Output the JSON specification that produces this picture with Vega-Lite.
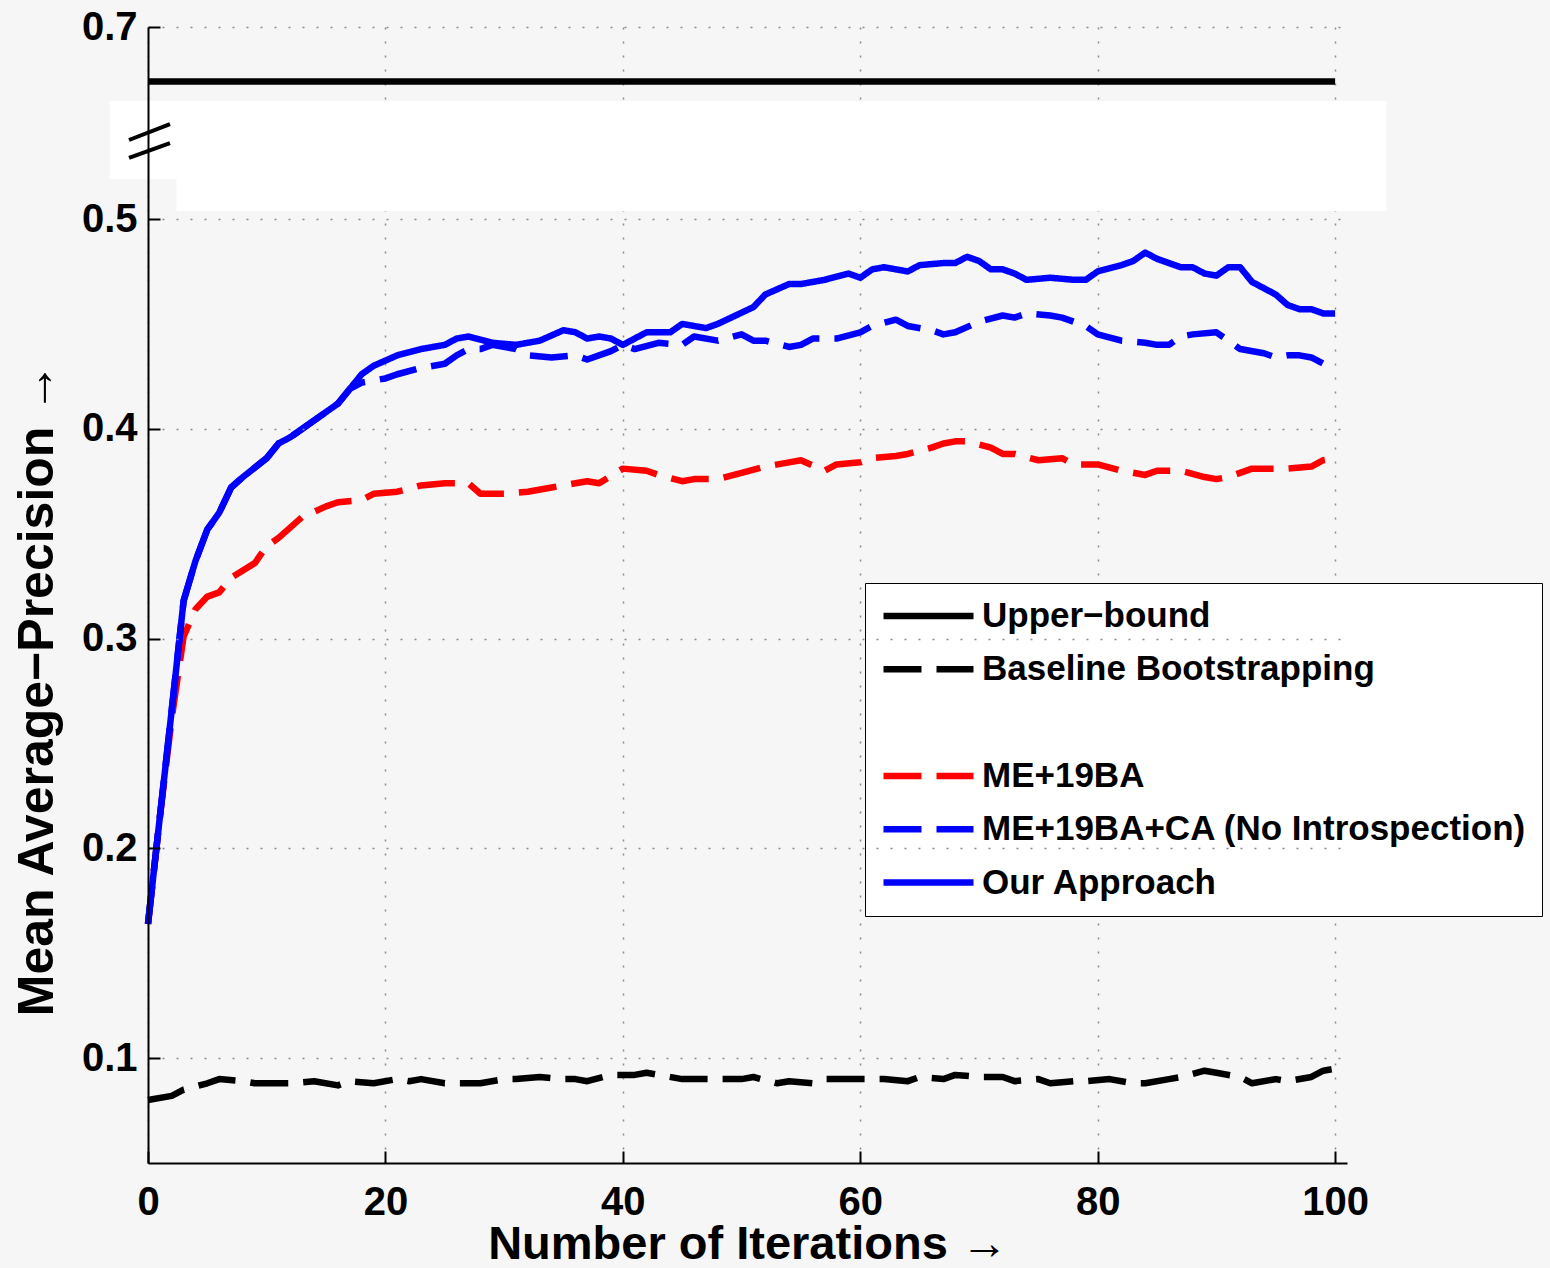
{
  "$schema": "https://vega.github.io/schema/vega-lite/v6.json",
  "width": 1199,
  "height": 1136,
  "autosize": {"type": "none"},
  "padding": {"left": 148, "top": 27, "right": 203, "bottom": 105},
  "background": "#f6f6f6",
  "config": {"view": {"stroke": null}, "font": "Liberation Sans"},
  "datasets": {
    "whiteout": [
      {"iter": -3.2, "iter2": 104.3, "map": 0.569, "map2": 0.6648},
      {"iter": 2.4, "iter2": 104.3, "map": 0.5138, "map2": 0.569}
    ],
    "breakmarks": [
      {"iter": -1.6, "iter2": 1.85, "map": 0.6362, "map2": 0.6538},
      {"iter": -1.6, "iter2": 1.85, "map": 0.6052, "map2": 0.631}
    ],
    "series": [
      {"iter": 0, "map": 0.674, "method": "Upper−bound"},
      {"iter": 100, "map": 0.674, "method": "Upper−bound"},

      {"iter": 0, "map": 0.080, "method": "Baseline Bootstrapping"},
      {"iter": 2, "map": 0.082, "method": "Baseline Bootstrapping"},
      {"iter": 3, "map": 0.085, "method": "Baseline Bootstrapping"},
      {"iter": 5, "map": 0.088, "method": "Baseline Bootstrapping"},
      {"iter": 6, "map": 0.090, "method": "Baseline Bootstrapping"},
      {"iter": 8, "map": 0.089, "method": "Baseline Bootstrapping"},
      {"iter": 9, "map": 0.088, "method": "Baseline Bootstrapping"},
      {"iter": 11, "map": 0.088, "method": "Baseline Bootstrapping"},
      {"iter": 12, "map": 0.088, "method": "Baseline Bootstrapping"},
      {"iter": 14, "map": 0.089, "method": "Baseline Bootstrapping"},
      {"iter": 16, "map": 0.087, "method": "Baseline Bootstrapping"},
      {"iter": 17, "map": 0.089, "method": "Baseline Bootstrapping"},
      {"iter": 19, "map": 0.088, "method": "Baseline Bootstrapping"},
      {"iter": 21, "map": 0.090, "method": "Baseline Bootstrapping"},
      {"iter": 22, "map": 0.089, "method": "Baseline Bootstrapping"},
      {"iter": 23, "map": 0.090, "method": "Baseline Bootstrapping"},
      {"iter": 25, "map": 0.088, "method": "Baseline Bootstrapping"},
      {"iter": 27, "map": 0.088, "method": "Baseline Bootstrapping"},
      {"iter": 28, "map": 0.088, "method": "Baseline Bootstrapping"},
      {"iter": 30, "map": 0.090, "method": "Baseline Bootstrapping"},
      {"iter": 31, "map": 0.090, "method": "Baseline Bootstrapping"},
      {"iter": 33, "map": 0.091, "method": "Baseline Bootstrapping"},
      {"iter": 35, "map": 0.090, "method": "Baseline Bootstrapping"},
      {"iter": 36, "map": 0.090, "method": "Baseline Bootstrapping"},
      {"iter": 37, "map": 0.089, "method": "Baseline Bootstrapping"},
      {"iter": 39, "map": 0.092, "method": "Baseline Bootstrapping"},
      {"iter": 41, "map": 0.092, "method": "Baseline Bootstrapping"},
      {"iter": 42, "map": 0.093, "method": "Baseline Bootstrapping"},
      {"iter": 43, "map": 0.092, "method": "Baseline Bootstrapping"},
      {"iter": 45, "map": 0.090, "method": "Baseline Bootstrapping"},
      {"iter": 47, "map": 0.090, "method": "Baseline Bootstrapping"},
      {"iter": 50, "map": 0.090, "method": "Baseline Bootstrapping"},
      {"iter": 51, "map": 0.091, "method": "Baseline Bootstrapping"},
      {"iter": 53, "map": 0.088, "method": "Baseline Bootstrapping"},
      {"iter": 54, "map": 0.089, "method": "Baseline Bootstrapping"},
      {"iter": 56, "map": 0.088, "method": "Baseline Bootstrapping"},
      {"iter": 57, "map": 0.090, "method": "Baseline Bootstrapping"},
      {"iter": 59, "map": 0.090, "method": "Baseline Bootstrapping"},
      {"iter": 61, "map": 0.090, "method": "Baseline Bootstrapping"},
      {"iter": 62, "map": 0.090, "method": "Baseline Bootstrapping"},
      {"iter": 64, "map": 0.089, "method": "Baseline Bootstrapping"},
      {"iter": 65, "map": 0.091, "method": "Baseline Bootstrapping"},
      {"iter": 67, "map": 0.090, "method": "Baseline Bootstrapping"},
      {"iter": 68, "map": 0.092, "method": "Baseline Bootstrapping"},
      {"iter": 70, "map": 0.091, "method": "Baseline Bootstrapping"},
      {"iter": 72, "map": 0.091, "method": "Baseline Bootstrapping"},
      {"iter": 73, "map": 0.089, "method": "Baseline Bootstrapping"},
      {"iter": 75, "map": 0.090, "method": "Baseline Bootstrapping"},
      {"iter": 76, "map": 0.088, "method": "Baseline Bootstrapping"},
      {"iter": 78, "map": 0.089, "method": "Baseline Bootstrapping"},
      {"iter": 79, "map": 0.089, "method": "Baseline Bootstrapping"},
      {"iter": 81, "map": 0.090, "method": "Baseline Bootstrapping"},
      {"iter": 83, "map": 0.088, "method": "Baseline Bootstrapping"},
      {"iter": 84, "map": 0.088, "method": "Baseline Bootstrapping"},
      {"iter": 86, "map": 0.090, "method": "Baseline Bootstrapping"},
      {"iter": 87, "map": 0.091, "method": "Baseline Bootstrapping"},
      {"iter": 89, "map": 0.094, "method": "Baseline Bootstrapping"},
      {"iter": 90, "map": 0.093, "method": "Baseline Bootstrapping"},
      {"iter": 92, "map": 0.091, "method": "Baseline Bootstrapping"},
      {"iter": 93, "map": 0.088, "method": "Baseline Bootstrapping"},
      {"iter": 95, "map": 0.090, "method": "Baseline Bootstrapping"},
      {"iter": 96, "map": 0.089, "method": "Baseline Bootstrapping"},
      {"iter": 98, "map": 0.091, "method": "Baseline Bootstrapping"},
      {"iter": 99, "map": 0.094, "method": "Baseline Bootstrapping"},
      {"iter": 100, "map": 0.095, "method": "Baseline Bootstrapping"},

      {"iter": 0, "map": 0.164, "method": "ME+19BA"},
      {"iter": 1, "map": 0.215, "method": "ME+19BA"},
      {"iter": 2, "map": 0.262, "method": "ME+19BA"},
      {"iter": 3, "map": 0.301, "method": "ME+19BA"},
      {"iter": 4, "map": 0.314, "method": "ME+19BA"},
      {"iter": 5, "map": 0.320, "method": "ME+19BA"},
      {"iter": 6, "map": 0.322, "method": "ME+19BA"},
      {"iter": 7, "map": 0.329, "method": "ME+19BA"},
      {"iter": 9, "map": 0.336, "method": "ME+19BA"},
      {"iter": 10, "map": 0.344, "method": "ME+19BA"},
      {"iter": 11, "map": 0.348, "method": "ME+19BA"},
      {"iter": 12, "map": 0.353, "method": "ME+19BA"},
      {"iter": 13, "map": 0.358, "method": "ME+19BA"},
      {"iter": 15, "map": 0.363, "method": "ME+19BA"},
      {"iter": 16, "map": 0.365, "method": "ME+19BA"},
      {"iter": 18, "map": 0.366, "method": "ME+19BA"},
      {"iter": 19, "map": 0.369, "method": "ME+19BA"},
      {"iter": 21, "map": 0.370, "method": "ME+19BA"},
      {"iter": 23, "map": 0.373, "method": "ME+19BA"},
      {"iter": 25, "map": 0.374, "method": "ME+19BA"},
      {"iter": 27, "map": 0.374, "method": "ME+19BA"},
      {"iter": 28, "map": 0.369, "method": "ME+19BA"},
      {"iter": 30, "map": 0.369, "method": "ME+19BA"},
      {"iter": 32, "map": 0.370, "method": "ME+19BA"},
      {"iter": 34, "map": 0.372, "method": "ME+19BA"},
      {"iter": 37, "map": 0.375, "method": "ME+19BA"},
      {"iter": 38, "map": 0.374, "method": "ME+19BA"},
      {"iter": 40, "map": 0.381, "method": "ME+19BA"},
      {"iter": 42, "map": 0.380, "method": "ME+19BA"},
      {"iter": 43, "map": 0.378, "method": "ME+19BA"},
      {"iter": 45, "map": 0.375, "method": "ME+19BA"},
      {"iter": 46, "map": 0.376, "method": "ME+19BA"},
      {"iter": 48, "map": 0.376, "method": "ME+19BA"},
      {"iter": 50, "map": 0.379, "method": "ME+19BA"},
      {"iter": 52, "map": 0.382, "method": "ME+19BA"},
      {"iter": 54, "map": 0.384, "method": "ME+19BA"},
      {"iter": 55, "map": 0.385, "method": "ME+19BA"},
      {"iter": 57, "map": 0.380, "method": "ME+19BA"},
      {"iter": 58, "map": 0.383, "method": "ME+19BA"},
      {"iter": 60, "map": 0.384, "method": "ME+19BA"},
      {"iter": 61, "map": 0.386, "method": "ME+19BA"},
      {"iter": 63, "map": 0.387, "method": "ME+19BA"},
      {"iter": 64, "map": 0.388, "method": "ME+19BA"},
      {"iter": 66, "map": 0.391, "method": "ME+19BA"},
      {"iter": 67, "map": 0.393, "method": "ME+19BA"},
      {"iter": 68, "map": 0.394, "method": "ME+19BA"},
      {"iter": 69, "map": 0.394, "method": "ME+19BA"},
      {"iter": 71, "map": 0.391, "method": "ME+19BA"},
      {"iter": 72, "map": 0.388, "method": "ME+19BA"},
      {"iter": 73, "map": 0.388, "method": "ME+19BA"},
      {"iter": 75, "map": 0.385, "method": "ME+19BA"},
      {"iter": 77, "map": 0.386, "method": "ME+19BA"},
      {"iter": 78, "map": 0.383, "method": "ME+19BA"},
      {"iter": 80, "map": 0.383, "method": "ME+19BA"},
      {"iter": 82, "map": 0.380, "method": "ME+19BA"},
      {"iter": 84, "map": 0.378, "method": "ME+19BA"},
      {"iter": 85, "map": 0.380, "method": "ME+19BA"},
      {"iter": 87, "map": 0.380, "method": "ME+19BA"},
      {"iter": 89, "map": 0.377, "method": "ME+19BA"},
      {"iter": 90, "map": 0.376, "method": "ME+19BA"},
      {"iter": 91, "map": 0.377, "method": "ME+19BA"},
      {"iter": 93, "map": 0.381, "method": "ME+19BA"},
      {"iter": 95, "map": 0.381, "method": "ME+19BA"},
      {"iter": 96, "map": 0.381, "method": "ME+19BA"},
      {"iter": 98, "map": 0.382, "method": "ME+19BA"},
      {"iter": 99, "map": 0.385, "method": "ME+19BA"},
      {"iter": 100, "map": 0.386, "method": "ME+19BA"},

      {"iter": 0, "map": 0.164, "method": "ME+19BA+CA (No Introspection)"},
      {"iter": 1, "map": 0.215, "method": "ME+19BA+CA (No Introspection)"},
      {"iter": 2, "map": 0.266, "method": "ME+19BA+CA (No Introspection)"},
      {"iter": 3, "map": 0.318, "method": "ME+19BA+CA (No Introspection)"},
      {"iter": 4, "map": 0.337, "method": "ME+19BA+CA (No Introspection)"},
      {"iter": 5, "map": 0.352, "method": "ME+19BA+CA (No Introspection)"},
      {"iter": 6, "map": 0.360, "method": "ME+19BA+CA (No Introspection)"},
      {"iter": 7, "map": 0.372, "method": "ME+19BA+CA (No Introspection)"},
      {"iter": 8, "map": 0.377, "method": "ME+19BA+CA (No Introspection)"},
      {"iter": 10, "map": 0.386, "method": "ME+19BA+CA (No Introspection)"},
      {"iter": 11, "map": 0.393, "method": "ME+19BA+CA (No Introspection)"},
      {"iter": 12, "map": 0.396, "method": "ME+19BA+CA (No Introspection)"},
      {"iter": 14, "map": 0.404, "method": "ME+19BA+CA (No Introspection)"},
      {"iter": 15, "map": 0.408, "method": "ME+19BA+CA (No Introspection)"},
      {"iter": 16, "map": 0.412, "method": "ME+19BA+CA (No Introspection)"},
      {"iter": 17, "map": 0.419, "method": "ME+19BA+CA (No Introspection)"},
      {"iter": 18, "map": 0.422, "method": "ME+19BA+CA (No Introspection)"},
      {"iter": 20, "map": 0.424, "method": "ME+19BA+CA (No Introspection)"},
      {"iter": 21, "map": 0.426, "method": "ME+19BA+CA (No Introspection)"},
      {"iter": 23, "map": 0.429, "method": "ME+19BA+CA (No Introspection)"},
      {"iter": 25, "map": 0.431, "method": "ME+19BA+CA (No Introspection)"},
      {"iter": 26, "map": 0.435, "method": "ME+19BA+CA (No Introspection)"},
      {"iter": 27, "map": 0.438, "method": "ME+19BA+CA (No Introspection)"},
      {"iter": 28, "map": 0.438, "method": "ME+19BA+CA (No Introspection)"},
      {"iter": 29, "map": 0.440, "method": "ME+19BA+CA (No Introspection)"},
      {"iter": 31, "map": 0.438, "method": "ME+19BA+CA (No Introspection)"},
      {"iter": 32, "map": 0.435, "method": "ME+19BA+CA (No Introspection)"},
      {"iter": 34, "map": 0.434, "method": "ME+19BA+CA (No Introspection)"},
      {"iter": 36, "map": 0.435, "method": "ME+19BA+CA (No Introspection)"},
      {"iter": 37, "map": 0.433, "method": "ME+19BA+CA (No Introspection)"},
      {"iter": 39, "map": 0.437, "method": "ME+19BA+CA (No Introspection)"},
      {"iter": 40, "map": 0.440, "method": "ME+19BA+CA (No Introspection)"},
      {"iter": 41, "map": 0.438, "method": "ME+19BA+CA (No Introspection)"},
      {"iter": 43, "map": 0.441, "method": "ME+19BA+CA (No Introspection)"},
      {"iter": 45, "map": 0.440, "method": "ME+19BA+CA (No Introspection)"},
      {"iter": 46, "map": 0.444, "method": "ME+19BA+CA (No Introspection)"},
      {"iter": 48, "map": 0.442, "method": "ME+19BA+CA (No Introspection)"},
      {"iter": 50, "map": 0.445, "method": "ME+19BA+CA (No Introspection)"},
      {"iter": 51, "map": 0.442, "method": "ME+19BA+CA (No Introspection)"},
      {"iter": 52, "map": 0.442, "method": "ME+19BA+CA (No Introspection)"},
      {"iter": 54, "map": 0.439, "method": "ME+19BA+CA (No Introspection)"},
      {"iter": 55, "map": 0.440, "method": "ME+19BA+CA (No Introspection)"},
      {"iter": 56, "map": 0.443, "method": "ME+19BA+CA (No Introspection)"},
      {"iter": 58, "map": 0.443, "method": "ME+19BA+CA (No Introspection)"},
      {"iter": 60, "map": 0.446, "method": "ME+19BA+CA (No Introspection)"},
      {"iter": 61, "map": 0.449, "method": "ME+19BA+CA (No Introspection)"},
      {"iter": 63, "map": 0.452, "method": "ME+19BA+CA (No Introspection)"},
      {"iter": 64, "map": 0.449, "method": "ME+19BA+CA (No Introspection)"},
      {"iter": 66, "map": 0.447, "method": "ME+19BA+CA (No Introspection)"},
      {"iter": 67, "map": 0.445, "method": "ME+19BA+CA (No Introspection)"},
      {"iter": 68, "map": 0.446, "method": "ME+19BA+CA (No Introspection)"},
      {"iter": 70, "map": 0.451, "method": "ME+19BA+CA (No Introspection)"},
      {"iter": 72, "map": 0.454, "method": "ME+19BA+CA (No Introspection)"},
      {"iter": 73, "map": 0.453, "method": "ME+19BA+CA (No Introspection)"},
      {"iter": 74, "map": 0.455, "method": "ME+19BA+CA (No Introspection)"},
      {"iter": 76, "map": 0.454, "method": "ME+19BA+CA (No Introspection)"},
      {"iter": 77, "map": 0.453, "method": "ME+19BA+CA (No Introspection)"},
      {"iter": 79, "map": 0.449, "method": "ME+19BA+CA (No Introspection)"},
      {"iter": 80, "map": 0.445, "method": "ME+19BA+CA (No Introspection)"},
      {"iter": 82, "map": 0.442, "method": "ME+19BA+CA (No Introspection)"},
      {"iter": 84, "map": 0.441, "method": "ME+19BA+CA (No Introspection)"},
      {"iter": 85, "map": 0.440, "method": "ME+19BA+CA (No Introspection)"},
      {"iter": 86, "map": 0.440, "method": "ME+19BA+CA (No Introspection)"},
      {"iter": 87, "map": 0.444, "method": "ME+19BA+CA (No Introspection)"},
      {"iter": 88, "map": 0.445, "method": "ME+19BA+CA (No Introspection)"},
      {"iter": 90, "map": 0.446, "method": "ME+19BA+CA (No Introspection)"},
      {"iter": 91, "map": 0.442, "method": "ME+19BA+CA (No Introspection)"},
      {"iter": 92, "map": 0.438, "method": "ME+19BA+CA (No Introspection)"},
      {"iter": 94, "map": 0.436, "method": "ME+19BA+CA (No Introspection)"},
      {"iter": 95, "map": 0.434, "method": "ME+19BA+CA (No Introspection)"},
      {"iter": 96, "map": 0.435, "method": "ME+19BA+CA (No Introspection)"},
      {"iter": 97, "map": 0.435, "method": "ME+19BA+CA (No Introspection)"},
      {"iter": 98, "map": 0.434, "method": "ME+19BA+CA (No Introspection)"},
      {"iter": 99, "map": 0.431, "method": "ME+19BA+CA (No Introspection)"},
      {"iter": 100, "map": 0.431, "method": "ME+19BA+CA (No Introspection)"},

      {"iter": 0, "map": 0.164, "method": "Our Approach"},
      {"iter": 1, "map": 0.215, "method": "Our Approach"},
      {"iter": 2, "map": 0.266, "method": "Our Approach"},
      {"iter": 3, "map": 0.318, "method": "Our Approach"},
      {"iter": 4, "map": 0.337, "method": "Our Approach"},
      {"iter": 5, "map": 0.352, "method": "Our Approach"},
      {"iter": 6, "map": 0.360, "method": "Our Approach"},
      {"iter": 7, "map": 0.372, "method": "Our Approach"},
      {"iter": 8, "map": 0.377, "method": "Our Approach"},
      {"iter": 10, "map": 0.386, "method": "Our Approach"},
      {"iter": 11, "map": 0.393, "method": "Our Approach"},
      {"iter": 12, "map": 0.396, "method": "Our Approach"},
      {"iter": 14, "map": 0.404, "method": "Our Approach"},
      {"iter": 15, "map": 0.408, "method": "Our Approach"},
      {"iter": 16, "map": 0.412, "method": "Our Approach"},
      {"iter": 18, "map": 0.426, "method": "Our Approach"},
      {"iter": 19, "map": 0.430, "method": "Our Approach"},
      {"iter": 21, "map": 0.435, "method": "Our Approach"},
      {"iter": 23, "map": 0.438, "method": "Our Approach"},
      {"iter": 25, "map": 0.440, "method": "Our Approach"},
      {"iter": 26, "map": 0.443, "method": "Our Approach"},
      {"iter": 27, "map": 0.444, "method": "Our Approach"},
      {"iter": 29, "map": 0.441, "method": "Our Approach"},
      {"iter": 31, "map": 0.440, "method": "Our Approach"},
      {"iter": 33, "map": 0.442, "method": "Our Approach"},
      {"iter": 35, "map": 0.447, "method": "Our Approach"},
      {"iter": 36, "map": 0.446, "method": "Our Approach"},
      {"iter": 37, "map": 0.443, "method": "Our Approach"},
      {"iter": 38, "map": 0.444, "method": "Our Approach"},
      {"iter": 39, "map": 0.443, "method": "Our Approach"},
      {"iter": 40, "map": 0.440, "method": "Our Approach"},
      {"iter": 42, "map": 0.446, "method": "Our Approach"},
      {"iter": 44, "map": 0.446, "method": "Our Approach"},
      {"iter": 45, "map": 0.450, "method": "Our Approach"},
      {"iter": 47, "map": 0.448, "method": "Our Approach"},
      {"iter": 48, "map": 0.450, "method": "Our Approach"},
      {"iter": 51, "map": 0.458, "method": "Our Approach"},
      {"iter": 52, "map": 0.464, "method": "Our Approach"},
      {"iter": 54, "map": 0.469, "method": "Our Approach"},
      {"iter": 55, "map": 0.469, "method": "Our Approach"},
      {"iter": 57, "map": 0.471, "method": "Our Approach"},
      {"iter": 59, "map": 0.474, "method": "Our Approach"},
      {"iter": 60, "map": 0.472, "method": "Our Approach"},
      {"iter": 61, "map": 0.476, "method": "Our Approach"},
      {"iter": 62, "map": 0.477, "method": "Our Approach"},
      {"iter": 64, "map": 0.475, "method": "Our Approach"},
      {"iter": 65, "map": 0.478, "method": "Our Approach"},
      {"iter": 67, "map": 0.479, "method": "Our Approach"},
      {"iter": 68, "map": 0.479, "method": "Our Approach"},
      {"iter": 69, "map": 0.482, "method": "Our Approach"},
      {"iter": 70, "map": 0.480, "method": "Our Approach"},
      {"iter": 71, "map": 0.476, "method": "Our Approach"},
      {"iter": 72, "map": 0.476, "method": "Our Approach"},
      {"iter": 73, "map": 0.474, "method": "Our Approach"},
      {"iter": 74, "map": 0.471, "method": "Our Approach"},
      {"iter": 76, "map": 0.472, "method": "Our Approach"},
      {"iter": 78, "map": 0.471, "method": "Our Approach"},
      {"iter": 79, "map": 0.471, "method": "Our Approach"},
      {"iter": 80, "map": 0.475, "method": "Our Approach"},
      {"iter": 82, "map": 0.478, "method": "Our Approach"},
      {"iter": 83, "map": 0.480, "method": "Our Approach"},
      {"iter": 84, "map": 0.484, "method": "Our Approach"},
      {"iter": 85, "map": 0.481, "method": "Our Approach"},
      {"iter": 87, "map": 0.477, "method": "Our Approach"},
      {"iter": 88, "map": 0.477, "method": "Our Approach"},
      {"iter": 89, "map": 0.474, "method": "Our Approach"},
      {"iter": 90, "map": 0.473, "method": "Our Approach"},
      {"iter": 91, "map": 0.477, "method": "Our Approach"},
      {"iter": 92, "map": 0.477, "method": "Our Approach"},
      {"iter": 93, "map": 0.470, "method": "Our Approach"},
      {"iter": 95, "map": 0.464, "method": "Our Approach"},
      {"iter": 96, "map": 0.459, "method": "Our Approach"},
      {"iter": 97, "map": 0.457, "method": "Our Approach"},
      {"iter": 98, "map": 0.457, "method": "Our Approach"},
      {"iter": 99, "map": 0.455, "method": "Our Approach"},
      {"iter": 100, "map": 0.455, "method": "Our Approach"}
    ]
  },
  "encoding": {
    "x": {
      "field": "iter",
      "type": "quantitative",
      "scale": {"domain": [0, 101], "nice": false, "zero": false},
      "axis": {
        "values": [0, 20, 40, 60, 80, 100],
        "title": "Number of Iterations →",
        "grid": true,
        "gridDash": [2, 12],
        "gridColor": "#8a8a8a",
        "gridWidth": 1.5,
        "domainColor": "black",
        "domainWidth": 2,
        "tickColor": "black",
        "tickWidth": 2,
        "tickSize": -12,
        "labelFont": "Liberation Sans",
        "labelFontSize": 40,
        "labelFontWeight": "bold",
        "labelColor": "black",
        "labelPadding": 31,
        "labelFlush": false,
        "labelOverlap": false,
        "titleFont": "Liberation Sans",
        "titleFontSize": 47,
        "titleFontWeight": "bold",
        "titleColor": "black",
        "titleY": 95,
        "titleBaseline": "alphabetic"
      }
    },
    "y": {
      "field": "map",
      "type": "quantitative",
      "scale": {"domain": [0.05, 0.5, 0.65, 0.7], "range": [1136, 192, 105, 0], "nice": false, "zero": false},
      "axis": {
        "values": [0.1, 0.2, 0.3, 0.4, 0.5, 0.7],
        "format": ".1f",
        "title": "Mean Average−Precision →",
        "grid": true,
        "gridDash": [2, 12],
        "gridColor": "#8a8a8a",
        "gridWidth": 1.5,
        "domainColor": "black",
        "domainWidth": 2,
        "tickColor": "black",
        "tickWidth": 2,
        "tickSize": -12,
        "labelFont": "Liberation Sans",
        "labelFontSize": 40,
        "labelFontWeight": "bold",
        "labelColor": "black",
        "labelPadding": 23,
        "labelFlush": false,
        "labelOverlap": false,
        "titleFont": "Liberation Sans",
        "titleFontSize": 50,
        "titleFontWeight": "bold",
        "titleColor": "black",
        "titleX": -96,
        "titleY": 662,
        "titleAngle": 270,
        "titleAlign": "center",
        "titleBaseline": "alphabetic",
        "zindex": 1
      }
    }
  },
  "layer": [
    {
      "data": {"name": "whiteout"},
      "mark": {"type": "rect", "color": "white"},
      "encoding": {
        "x2": {"field": "iter2"},
        "y2": {"field": "map2"}
      }
    },
    {
      "data": {"name": "series"},
      "mark": {"type": "line", "strokeWidth": 6.5, "strokeJoin": "round"},
      "encoding": {
        "color": {
          "field": "method",
          "type": "nominal",
          "scale": {
            "domain": ["Upper−bound", "Baseline Bootstrapping", " ", "ME+19BA", "ME+19BA+CA (No Introspection)", "Our Approach"],
            "range": ["black", "black", "transparent", "#ff0000", "#0000ff", "#0000ff"]
          },
          "legend": {
            "title": null,
            "orient": "none",
            "legendX": 717,
            "legendY": 556,
            "symbolType": "stroke",
            "symbolSize": 8100,
            "symbolStrokeWidth": 6.5,
            "clipHeight": 36,
            "labelFont": "Liberation Sans",
            "labelFontSize": 35,
            "labelFontWeight": "bold",
            "labelColor": "black",
            "labelLimit": 800,
            "labelOffset": 5,
            "padding": 15,
            "rowPadding": 17.3,
            "fillColor": "white",
            "strokeColor": "black"
          }
        },
        "strokeDash": {
          "field": "method",
          "type": "nominal",
          "scale": {
            "domain": ["Upper−bound", "Baseline Bootstrapping", " ", "ME+19BA", "ME+19BA+CA (No Introspection)", "Our Approach"],
            "range": [[1, 0], [38, 15], [1, 0], [38, 15], [38, 15], [1, 0]]
          },
          "legend": {
            "title": null,
            "orient": "none",
            "legendX": 717,
            "legendY": 556,
            "symbolType": "stroke",
            "symbolSize": 8100,
            "symbolStrokeWidth": 6.5,
            "clipHeight": 36,
            "labelFont": "Liberation Sans",
            "labelFontSize": 35,
            "labelFontWeight": "bold",
            "labelColor": "black",
            "labelLimit": 800,
            "labelOffset": 5,
            "padding": 15,
            "rowPadding": 17.3,
            "fillColor": "white",
            "strokeColor": "black"
          }
        }
      }
    },
    {
      "data": {"name": "breakmarks"},
      "mark": {"type": "rule", "color": "black", "strokeWidth": 4},
      "encoding": {
        "x2": {"field": "iter2"},
        "y2": {"field": "map2"}
      }
    }
  ]
}
